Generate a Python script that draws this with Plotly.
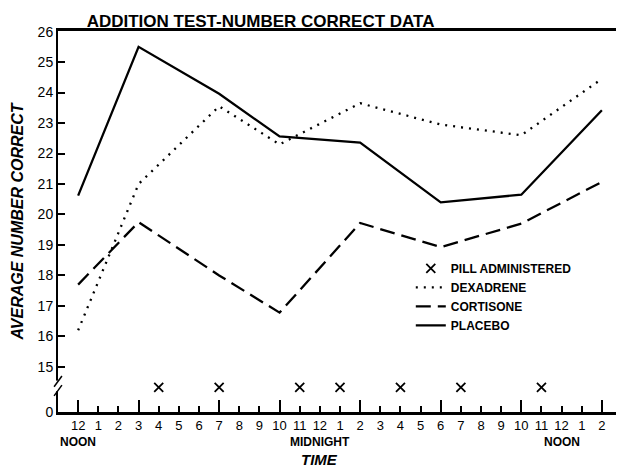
import plotly.graph_objects as go

# Time axis: hours elapsed since 12 noon
hours = list(range(0, 27))
hour_labels = ["12", "1", "2", "3", "4", "5", "6", "7", "8", "9", "10", "11",
               "12", "1", "2", "3", "4", "5", "6", "7", "8", "9", "10", "11",
               "12", "1", "2"]
day_marks = [0, 12, 24]
day_labels = ["NOON", "MIDNIGHT", "NOON"]

test_hours = [0, 3, 7, 10, 14, 18, 22, 26]
dexadrene = [16.2, 21.0, 23.55, 22.3, 23.65, 22.95, 22.6, 24.45]
cortisone = [17.7, 19.75, 18.0, 16.78, 19.72, 18.93, 19.7, 21.07]
placebo = [20.62, 25.5, 23.96, 22.56, 22.36, 20.4, 20.65, 23.42]

pill_hours = [4, 7, 11, 13, 16, 19, 23]
pill_level = 14.33  # drawn in the broken-axis band between 0 and 15

# y axis: "0" sits just below 15 (broken axis)
zero_pos = 13.52
y_tickvals = [zero_pos] + list(range(15, 27))
y_ticktext = ["0"] + [str(v) for v in range(15, 27)]

FONT = "Liberation Sans Narrow, Arial Narrow, Liberation Sans, Arial, sans-serif"

fig = go.Figure()
fig.add_trace(go.Scatter(x=pill_hours, y=[pill_level] * len(pill_hours), mode="markers",
                         name="PILL ADMINISTERED",
                         marker=dict(symbol="x-thin", size=9, color="black",
                                     line=dict(width=1.8, color="black"))))
fig.add_trace(go.Scatter(x=test_hours, y=dexadrene, mode="lines", name="DEXADRENE",
                         line=dict(color="black", width=2.3, dash="2px,6px")))
fig.add_trace(go.Scatter(x=test_hours, y=cortisone, mode="lines", name="CORTISONE",
                         line=dict(color="black", width=2.3, dash="15px,7px")))
fig.add_trace(go.Scatter(x=test_hours, y=placebo, mode="lines", name="PLACEBO",
                         line=dict(color="black", width=2.3)))

# axis break marks on the y axis
fig.add_shape(type="rect", xref="paper", yref="y", x0=-0.006, x1=0.006, y0=14.2, y1=14.55,
              fillcolor="white", line=dict(width=0), layer="above")
fig.add_shape(type="line", xref="paper", yref="y", x0=-0.007, x1=0.007, y0=14.05, y1=14.4,
              line=dict(color="black", width=1.5), layer="above")
fig.add_shape(type="line", xref="paper", yref="y", x0=-0.007, x1=0.007, y0=14.35, y1=14.7,
              line=dict(color="black", width=1.5), layer="above")

for h, lab in zip(day_marks, day_labels):
    fig.add_annotation(x=h, xref="x", y=0, yref="paper", yshift=-21, text="<b>" + lab + "</b>",
                       showarrow=False, xanchor="center", yanchor="top",
                       font=dict(size=12, family=FONT))
fig.add_annotation(x=12, xref="x", y=0, yref="paper", yshift=-37, text="<b><i>TIME</i></b>",
                   showarrow=False, xanchor="center", yanchor="top",
                   font=dict(size=15, family=FONT))

# the page body adds an 8px margin, so the figure is sized to fill the rest of the window
fig.update_layout(
    width=616, height=460,
    margin=dict(l=50, r=4, t=23, b=56),
    paper_bgcolor="white", plot_bgcolor="white",
    font=dict(family=FONT, color="black", size=13),
    title=dict(text="<b>ADDITION TEST-NUMBER CORRECT DATA</b>", x=0.41, xanchor="center",
               y=0.972, yanchor="middle", font=dict(size=17, family=FONT)),
    showlegend=True,
    legend=dict(x=0.63, y=0.415, xanchor="left", yanchor="top", bgcolor="rgba(0,0,0,0)",
                font=dict(size=12, family=FONT, weight="bold"), itemwidth=30,
                tracegroupgap=0),
)

fig.update_xaxes(
    range=[-1, 26.8], tickmode="array", tickvals=hours, ticktext=hour_labels,
    tickangle=0,
    ticks="inside", ticklen=6, tickwidth=2, tickcolor="black",
    minor=dict(tickmode="array", tickvals=test_hours, ticks="inside", ticklen=12,
               tickwidth=2, tickcolor="black"),
    showline=True, linecolor="black", linewidth=2.5, mirror=True,
    showgrid=False, zeroline=False,
    tickfont=dict(size=13, family=FONT),
)
fig.update_yaxes(
    range=[zero_pos, 26.02], tickmode="array", tickvals=y_tickvals, ticktext=y_ticktext,
    ticks="inside", ticklen=7, tickwidth=1.5, tickcolor="black",
    showline=True, linecolor="black", linewidth=2, mirror=True,
    showgrid=False, zeroline=False,
    tickfont=dict(size=14, family=FONT),
    title=dict(text="<b><i>AVERAGE NUMBER CORRECT</i></b>", font=dict(size=16, family=FONT),
               standoff=10),
)

fig.write_html("out.html")
